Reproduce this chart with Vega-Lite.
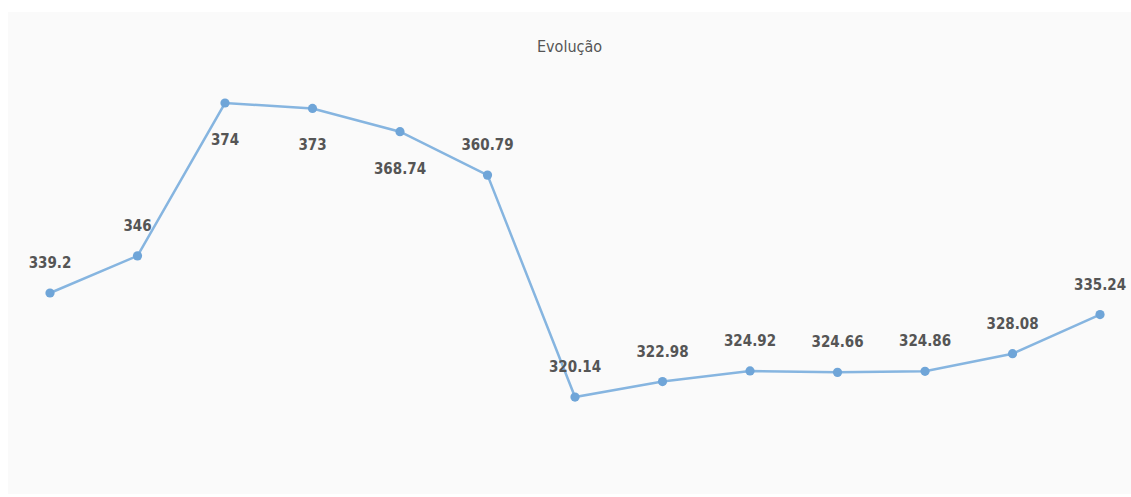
{
  "$schema": "https://vega.github.io/schema/vega-lite/v6.json",
  "width": 1131,
  "height": 497,
  "autosize": {"type": "fit", "contains": "padding"},
  "padding": {"left": 8, "top": 12, "right": 0, "bottom": 3},
  "background": "#ffffff",
  "config": {"view": {"fill": "#fafafa", "stroke": null}},
  "title": {
    "text": "Evolução",
    "anchor": "middle",
    "orient": "top",
    "baseline": "middle",
    "offset": -51,
    "font": "DejaVu Sans Condensed",
    "fontSize": 16,
    "fontWeight": "normal",
    "color": "#555555"
  },
  "data": {
    "values": [
      {"i": 1, "value": 339.2, "label": "339.2"},
      {"i": 2, "value": 346, "label": "346"},
      {"i": 3, "value": 374, "label": "374"},
      {"i": 4, "value": 373, "label": "373"},
      {"i": 5, "value": 368.74, "label": "368.74"},
      {"i": 6, "value": 360.79, "label": "360.79"},
      {"i": 7, "value": 320.14, "label": "320.14"},
      {"i": 8, "value": 322.98, "label": "322.98"},
      {"i": 9, "value": 324.92, "label": "324.92"},
      {"i": 10, "value": 324.66, "label": "324.66"},
      {"i": 11, "value": 324.86, "label": "324.86"},
      {"i": 12, "value": 328.08, "label": "328.08"},
      {"i": 13, "value": 335.24, "label": "335.24"}
    ]
  },
  "encoding": {
    "x": {"field": "i", "type": "quantitative", "scale": {"domain": [0.52, 13.354], "nice": false, "zero": false}, "axis": null},
    "y": {"field": "value", "type": "quantitative", "scale": {"domain": [302.38, 390.67], "nice": false, "zero": false}, "axis": null}
  },
  "layer": [
    {"mark": {"type": "line", "stroke": "#86b5e0", "strokeWidth": 2.5}},
    {"mark": {"type": "point", "filled": true, "fill": "#6fa5d8", "opacity": 1, "size": 85, "shape": "circle"}},
    {
      "transform": [{"filter": "datum.value <= 365"}],
      "mark": {"type": "text", "dy": -30, "font": "DejaVu Sans Condensed", "fontSize": 15, "fontWeight": "bold", "fill": "#555555", "align": "center", "baseline": "middle"},
      "encoding": {"text": {"field": "label"}}
    },
    {
      "transform": [{"filter": "datum.value > 365"}],
      "mark": {"type": "text", "dy": 37, "font": "DejaVu Sans Condensed", "fontSize": 15, "fontWeight": "bold", "fill": "#555555", "align": "center", "baseline": "middle"},
      "encoding": {"text": {"field": "label"}}
    }
  ]
}
